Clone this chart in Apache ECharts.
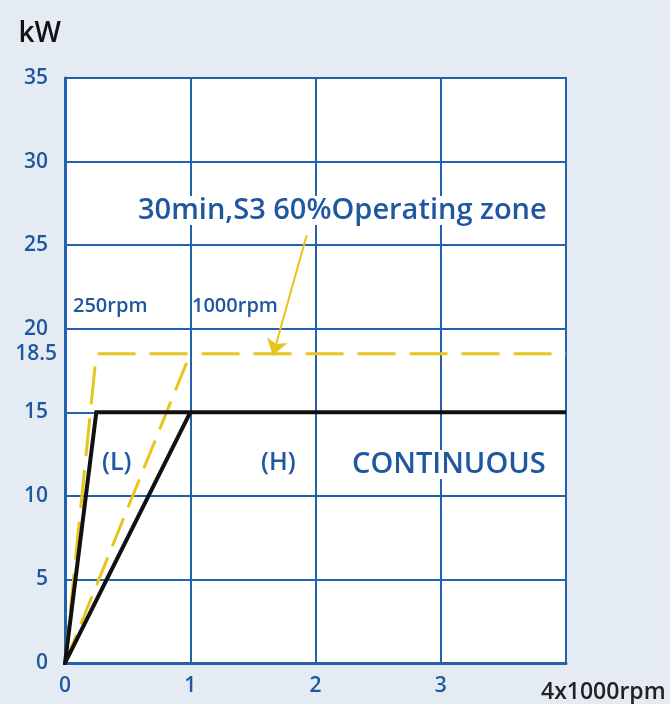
<!DOCTYPE html>
<html>
<head>
<meta charset="utf-8">
<script src="https://cdn.jsdelivr.net/npm/echarts@6/dist/echarts.min.js"></script>
<style>
  html, body { margin: 0; padding: 0; background: #e5ebf3; }
  #main { width: 670px; height: 704px; }
</style>
</head>
<body>
<div id="main"></div>
<script>
// speed in x1000rpm, power in kW
var xTicks = [0, 1, 2, 3, 4];
var yTicks = [0, 5, 10, 15, 20, 25, 30, 35];
var extraYTick = [18.5];

// continuous (S1) curve: (H) ramp, (L) ramp, flat 15 kW
var contRpm = [1, 0, 0.25, 4];
var contKw = [15, 0, 15, 15];

// 30min / S3 60% curve, low winding + flat
var s3LowRpm = [0, 0.25, 4];
var s3LowKw = [0, 18.5, 18.5];
// high winding ramp
var s3HighRpm = [0, 1];
var s3HighKw = [0, 18.5];

// arrow from the note down to the S3 line
var arrowRpm = [1.93, 1.66];
var arrowKw = [25.6, 18.4];

var blue = '#2262ad';
var txtBlue = '#1f57a0';
var yellow = '#e8c51c';
var font = 'Open Sans';

function pairs(xs, ys) {
  return xs.map(function (x, i) { return [x, ys[i]]; });
}

var chart = echarts.init(document.getElementById('main'));

var option = {
  backgroundColor: '#e5ebf3',
  animation: false,
  grid: {
    left: 65, right: 104, top: 78, bottom: 41,
    show: true,
    backgroundColor: '#ffffff',
    borderColor: blue,
    borderWidth: 2
  },
  xAxis: {
    type: 'value',
    min: xTicks[0],
    max: xTicks[xTicks.length - 1],
    interval: 1,
    name: '4x1000rpm',
    nameLocation: 'end',
    nameGap: -25,
    nameTextStyle: {
      color: '#222', fontFamily: font, fontSize: 23, fontWeight: 600,
      align: 'left', verticalAlign: 'top', padding: [18, 0, 0, 0]
    },
    axisLine: { lineStyle: { color: blue, width: 3 } },
    axisTick: { show: false },
    splitLine: { lineStyle: { color: blue, width: 2 } },
    axisLabel: {
      color: txtBlue, fontFamily: font, fontSize: 21, fontWeight: 600, margin: 13,
      formatter: function (v) { return v === 4 ? '' : String(v); }
    }
  },
  yAxis: [{
    type: 'value',
    min: yTicks[0],
    max: yTicks[yTicks.length - 1],
    interval: 5,
    name: 'kW',
    nameLocation: 'end',
    nameGap: 30,
    nameTextStyle: {
      color: '#111', fontFamily: font, fontSize: 28, fontWeight: 600,
      align: 'right', padding: [0, 4, 0, 0]
    },
    axisLine: { show: true, lineStyle: { color: blue, width: 3 } },
    axisTick: { show: false },
    splitLine: { lineStyle: { color: blue, width: 2 } },
    axisLabel: { color: txtBlue, fontFamily: font, fontSize: 21, fontWeight: 600, margin: 17 }
  }, {
    type: 'value',
    position: 'left',
    min: yTicks[0],
    max: yTicks[yTicks.length - 1],
    axisLine: { show: false },
    axisTick: { show: false },
    splitLine: { show: false },
    axisLabel: {
      color: txtBlue, fontFamily: font, fontSize: 21, fontWeight: 600, margin: 8,
      customValues: extraYTick
    }
  }],
  series: [
    {
      name: 'S3 low',
      type: 'line',
      data: pairs(s3LowRpm, s3LowKw),
      symbol: 'none',
      lineStyle: { color: yellow, width: 3, type: [38, 14] },
      z: 3
    },
    {
      name: 'S3 high',
      type: 'line',
      data: pairs(s3HighRpm, s3HighKw),
      symbol: 'none',
      lineStyle: { color: yellow, width: 3, type: [30, 12] },
      z: 3,
      markLine: {
        silent: true,
        symbol: ['none', 'arrow'],
        symbolSize: 16,
        label: { show: false },
        lineStyle: { color: yellow, width: 2, type: 'solid' },
        data: [[{ coord: [arrowRpm[0], arrowKw[0]] }, { coord: [arrowRpm[1], arrowKw[1]] }]]
      }
    },
    {
      name: 'CONTINUOUS',
      type: 'line',
      data: pairs(contRpm, contKw),
      symbol: 'none',
      lineStyle: { color: '#111', width: 4, join: 'miter' },
      z: 4
    }
  ],
  graphic: [
    { type: 'text', left: 73, top: 296, z: 10,
      style: { text: '250rpm', fill: txtBlue, font: '600 20px "Open Sans"' } },
    { type: 'text', left: 192, top: 296, z: 10,
      style: { text: '1000rpm', fill: txtBlue, font: '600 20px "Open Sans"' } },
    { type: 'text', left: 136, top: 196, z: 10,
      style: { text: '30min,S3 60%Operating zone', fill: txtBlue,
        font: '600 29px "Open Sans"', backgroundColor: '#ffffff', padding: [0, 2] } },
    { type: 'text', left: 102, top: 450, z: 10,
      style: { text: '(L)', fill: txtBlue, font: '600 25px "Open Sans"' } },
    { type: 'text', left: 261, top: 450, z: 10,
      style: { text: '(H)', fill: txtBlue, font: '600 25px "Open Sans"' } },
    { type: 'text', left: 350, top: 450, z: 10,
      style: { text: 'CONTINUOUS', fill: txtBlue, font: '600 29px "Open Sans"',
        backgroundColor: '#ffffff', padding: [0, 2] } }
  ]
};

chart.setOption(option);
</script>
</body>
</html>
